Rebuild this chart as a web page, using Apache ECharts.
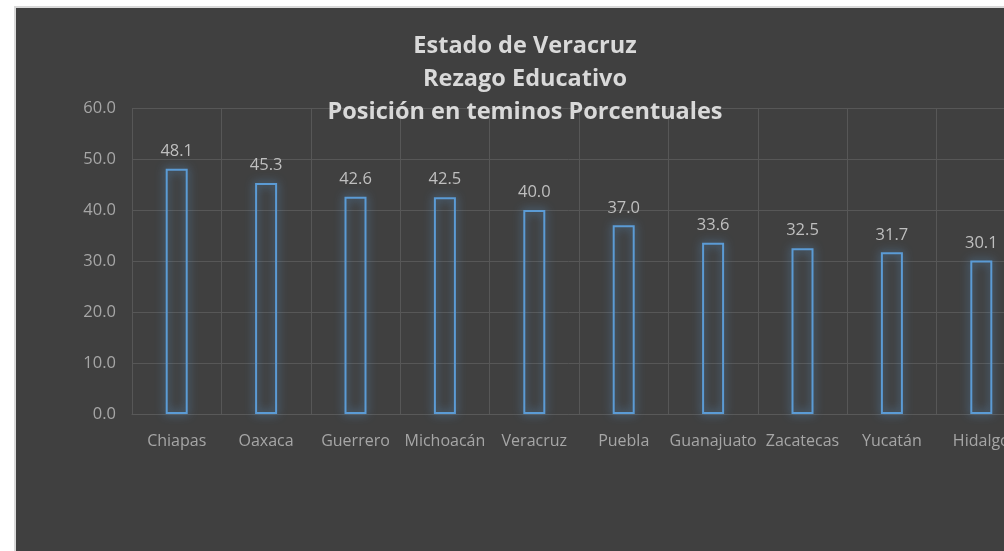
<!DOCTYPE html>
<html>
<head>
<meta charset="utf-8">
<script src="https://cdn.jsdelivr.net/npm/echarts@6/dist/echarts.min.js"></script>
<style>
  html, body { margin: 0; padding: 0; background: #fff; }
  #main { width: 1004px; height: 551px; }
</style>
</head>
<body>
<div id="main"></div>
<script>
// datos del grafico
const estados = ['Chiapas', 'Oaxaca', 'Guerrero', 'Michoacán', 'Veracruz', 'Puebla', 'Guanajuato', 'Zacatecas', 'Yucatán', 'Hidalgo'];
const rezago = [48.1, 45.3, 42.6, 42.5, 40.0, 37.0, 33.6, 32.5, 31.7, 30.1];
const titulo = 'Estado de Veracruz\nRezago Educativo\nPosición en teminos Porcentuales';

const chart = echarts.init(document.getElementById('main'));

const fuente = 'Open Sans';

const option = {
  backgroundColor: '#ffffff',
  animation: false,
  graphic: [{
    type: 'rect',
    z: -10,
    shape: { x: 15, y: 7, width: 1020, height: 560 },
    style: { fill: '#404040', stroke: '#d9d9d9', lineWidth: 2 }
  }],
  title: {
    text: titulo,
    left: 520,
    textAlign: 'center',
    top: 25,
    textStyle: {
      color: '#d9d9d9',
      fontFamily: fuente,
      fontWeight: 'bold',
      fontSize: 23.5,
      lineHeight: 33
    }
  },
  grid: {
    left: 132,
    top: 108,
    width: 894,
    height: 306,
    containLabel: false,
    outerBoundsMode: 'none'
  },
  xAxis: {
    type: 'category',
    data: estados,
    axisLine: { show: true, lineStyle: { color: '#595959' } },
    axisTick: { show: false },
    axisLabel: {
      color: '#a6a6a6',
      fontFamily: fuente,
      fontSize: 16,
      margin: 19,
      interval: 0
    },
    splitLine: {
      show: true,
      interval: 0,
      lineStyle: { color: '#575757', width: 1 }
    }
  },
  yAxis: {
    type: 'value',
    min: 0,
    max: 60,
    interval: 10,
    axisLine: { show: false },
    axisTick: { show: false },
    axisLabel: {
      color: '#a6a6a6',
      fontFamily: fuente,
      fontSize: 16.5,
      margin: 16,
      formatter: v => v.toFixed(1)
    },
    splitLine: { lineStyle: { color: '#575757', width: 1 } }
  },
  series: [{
    type: 'bar',
    data: rezago,
    barWidth: 22,
    itemStyle: {
      color: 'rgba(64,64,64,0)',
      borderColor: '#5b9bd5',
      borderWidth: 2,
      shadowBlur: 10,
      shadowColor: 'rgba(91,155,213,0.9)'
    },
    label: {
      show: true,
      position: 'top',
      distance: 9,
      color: '#bfbfbf',
      fontFamily: fuente,
      fontSize: 16.5,
      formatter: p => p.value.toFixed(1)
    }
  }]
};

chart.setOption(option);
</script>
</body>
</html>
